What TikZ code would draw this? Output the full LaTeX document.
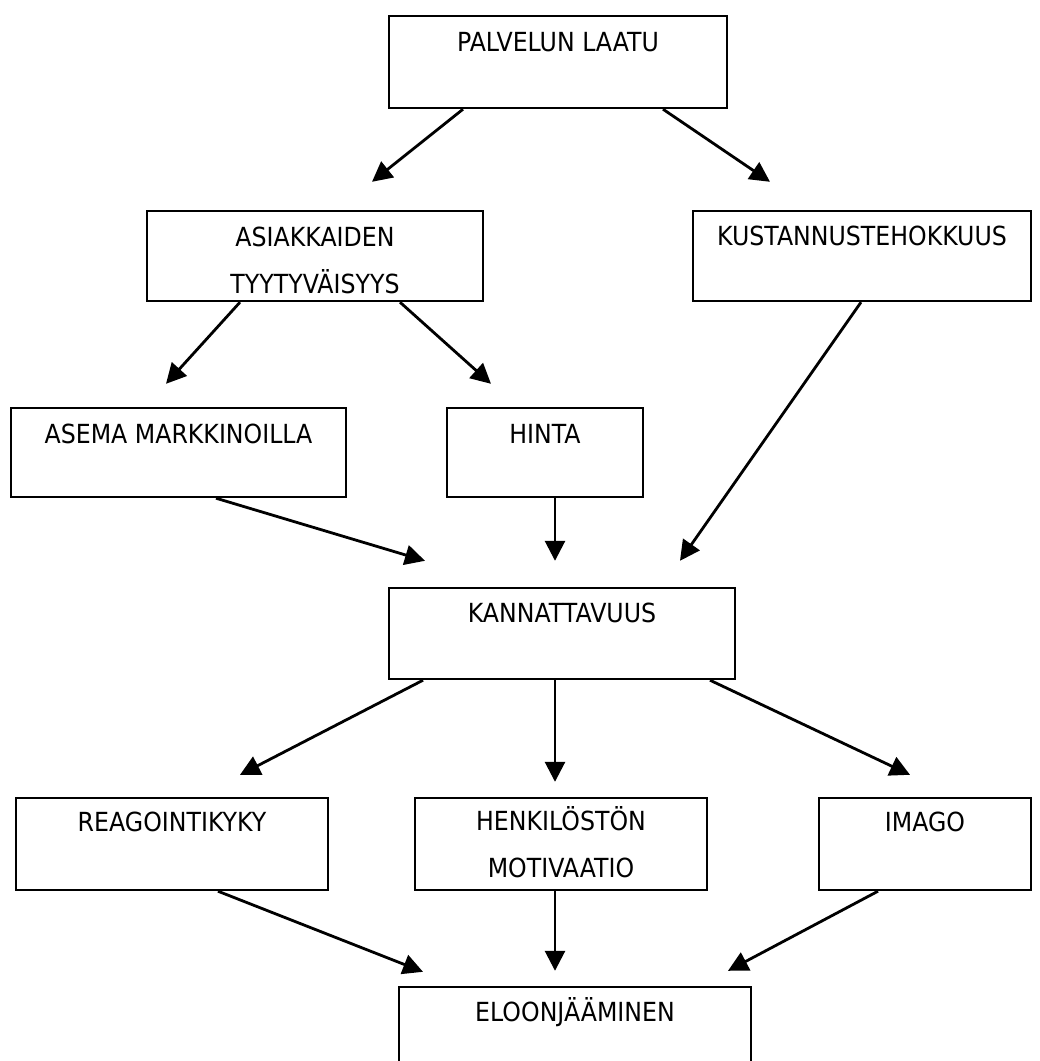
\documentclass[tikz,border=0pt]{standalone}
\usepackage{fontspec}
\setmainfont[FakeStretch=0.9]{DejaVu Sans}
\usetikzlibrary{arrows.meta}
\begin{document}
\begin{tikzpicture}[x=1pt,y=-1pt,
  box/.style={draw=black,line width=2.4pt,rectangle,inner sep=0pt},
  txt/.style={anchor=base,inner sep=0pt,align=center,font=\fontsize{26.3}{47}\selectfont},
  arr/.style={line width=2.8pt,-{Triangle[length=20pt,width=20pt]}}]
\useasboundingbox (0,0) rectangle (1040,1061);
\fill[white] (0,0) rectangle (1040,1061);
\begin{scope}
\clip (0,0) rectangle (1040,1061);
% boxes
\node[box,minimum width=338pt,minimum height=92pt] (pal) at (558,62) {};
\node[box,minimum width=336pt,minimum height=90pt] (asi) at (315,256) {};
\node[box,minimum width=338pt,minimum height=90pt] (kus) at (862,256) {};
\node[box,minimum width=335pt,minimum height=89pt] (ase) at (178.5,452.5) {};
\node[box,minimum width=196pt,minimum height=89pt] (hin) at (545,452.5) {};
\node[box,minimum width=346pt,minimum height=91pt] (kan) at (562,633.5) {};
\node[box,minimum width=312pt,minimum height=92pt] (rea) at (172,844) {};
\node[box,minimum width=292pt,minimum height=92pt] (hen) at (561,844) {};
\node[box,minimum width=212pt,minimum height=92pt] (ima) at (925,844) {};
\node[box,minimum width=352pt,minimum height=88pt] (elo) at (575,1031) {};
\end{scope}
% texts
\node[txt] (tpal) at ([yshift=-37pt]pal.north) {PALVELUN LAATU};
\node[txt] (tasi) at ([yshift=-84pt]asi.north) {ASIAKKAIDEN\\TYYTYVÄISYYS};
\node[txt] (tkus) at ([yshift=-36pt]kus.north) {KUSTANNUSTEHOKKUUS};
\node[txt] (tase) at ([yshift=-37pt]ase.north) {ASEMA MARKKINOILLA};
\node[txt] (thin) at ([yshift=-37pt]hin.north) {HINTA};
\node[txt] (tkan) at ([yshift=-36pt]kan.north) {KANNATTAVUUS};
\node[txt] (trea) at ([yshift=-35pt]rea.north) {REAGOINTIKYKY};
\node[txt] (then) at ([yshift=-81pt]hen.north) {HENKILÖSTÖN\\MOTIVAATIO};
\node[txt] (tima) at ([yshift=-35pt]ima.north) {IMAGO};
\node[txt] (telo) at ([yshift=-36pt]elo.north) {ELOONJÄÄMINEN};
% connectors
\draw[arr] ([xshift=-95pt]pal.south) -- ([xshift=57pt,yshift=28pt]asi.north);
\draw[arr] ([xshift=105pt]pal.south) -- ([xshift=-92pt,yshift=28pt]kus.north);
\draw[arr] ([xshift=-75pt]asi.south) -- ([xshift=-12.5pt,yshift=23pt]ase.north);
\draw[arr] ([xshift=85pt]asi.south) -- ([xshift=-54pt,yshift=23pt]hin.north);
\draw[arr] ([xshift=-1pt]kus.south) -- ([xshift=118pt,yshift=26pt]kan.north);
\draw[arr] ([xshift=37.5pt]ase.south) -- ([xshift=-137pt,yshift=26pt]kan.north);
\draw[arr] ([xshift=10pt]hin.south) -- ([xshift=-7pt,yshift=26pt]kan.north);
\draw[arr] ([xshift=-139pt]kan.south) -- ([xshift=68pt,yshift=22pt]rea.north);
\draw[arr] ([xshift=-7pt]kan.south) -- ([xshift=-6pt,yshift=15pt]hen.north);
\draw[arr] ([xshift=148pt]kan.south) -- ([xshift=-15pt,yshift=22pt]ima.north);
\draw[arr] ([xshift=46pt]rea.south) -- ([xshift=-152pt,yshift=14pt]elo.north);
\draw[arr] ([xshift=-6pt]hen.south) -- ([xshift=-20pt,yshift=15pt]elo.north);
\draw[arr] ([xshift=-47pt]ima.south) -- ([xshift=153pt,yshift=15pt]elo.north);
\end{tikzpicture}
\end{document}
